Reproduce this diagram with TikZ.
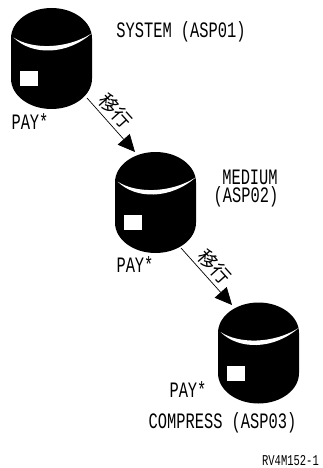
\documentclass[tikz,border=0pt]{standalone}
\usepackage{fontspec}
\usetikzlibrary{shapes.geometric, arrows.meta, positioning}
\newfontfamily\monofont[FakeStretch=0.7]{Liberation Mono}
\newfontfamily\cjkfont{Noto Sans CJK JP}
\tikzset{
  disk/.style={cylinder, shape border rotate=90, shape aspect=0.75, fill=black, draw=none, inner xsep=40.5pt, inner ysep=0pt, outer sep=0pt, minimum width=81pt, minimum height=101pt},
  lab/.style={inner sep=0pt, font=\monofont\fontsize{22}{22}\selectfont},
  moved/.style={inner sep=0pt, rotate=-48, font=\cjkfont\fontsize{19}{19}\selectfont},
  flow/.style={-{Triangle[length=17pt,width=16pt]}, line width=0.7pt},
  marks/.style={white, x=1pt, y=-1pt},
}
\begin{document}
\begin{tikzpicture}[on grid]
\useasboundingbox (0,0) rectangle (322pt,-468pt);
\node[disk, anchor=shape center] (d1) at (51.5pt,-58.5pt) {};
\node[disk, below right=144pt and 104pt of d1] (d2) {};
\node[disk, below right=150.5pt and 103pt of d2] (d3) {};

\foreach \d in {d1,d2,d3} {
  \fill[marks, shift={(\d.shape center)}] (-38,-21) .. controls (-20,-3) and (15,-3) .. (40,-25) .. controls (15,-9) and (-20,-9) .. cycle;
  \fill[marks, shift={(\d.shape center)}] (-31.5,12.5) rectangle (-13.5,27.5);
}

\node[lab] (p1) at ([shift={(-21.5pt,-63.5pt)}]d1.shape center) {PAY*};
\node[lab] (n1) at ([shift={(129.5pt,26.5pt)}]d1.shape center) {SYSTEM (ASP01)};
\node[lab] (p2) at ([shift={(-20.5pt,-62.5pt)}]d2.shape center) {PAY*};
\node[lab] (n2) at ([shift={(94.5pt,25.5pt)}]d2.shape center) {MEDIUM};
\node[lab] (n2b) at ([shift={(90.5pt,5.5pt)}]d2.shape center) {(ASP02)};
\node[lab] (p3) at ([shift={(-70.5pt,-37pt)}]d3.shape center) {PAY*};
\node[lab] (n3) at ([shift={(-36pt,-70pt)}]d3.shape center) {COMPRESS (ASP03)};
\node[inner sep=0pt, font=\monofont\fontsize{15}{15}\selectfont] (rv) at ([shift={(32pt,-108pt)}]d3.shape center) {RV4M152-1};

\coordinate (s1) at ([shift={(35.5pt,-39.5pt)}]d1.shape center);
\coordinate (t1) at ([shift={(-20.5pt,50.5pt)}]d2.shape center);
\coordinate (s2) at ([shift={(25.5pt,-45.5pt)}]d2.shape center);
\coordinate (t2) at ([shift={(-26.5pt,48pt)}]d3.shape center);
\draw[flow] (s1) -- (t1);
\draw[flow] (s2) -- (t2);

\node[moved] (m1) at ([shift={(64.5pt,-52.5pt)}]d1.shape center) {移行};
\node[moved] (m2) at ([shift={(59.5pt,-64.5pt)}]d2.shape center) {移行};
\end{tikzpicture}
\end{document}
